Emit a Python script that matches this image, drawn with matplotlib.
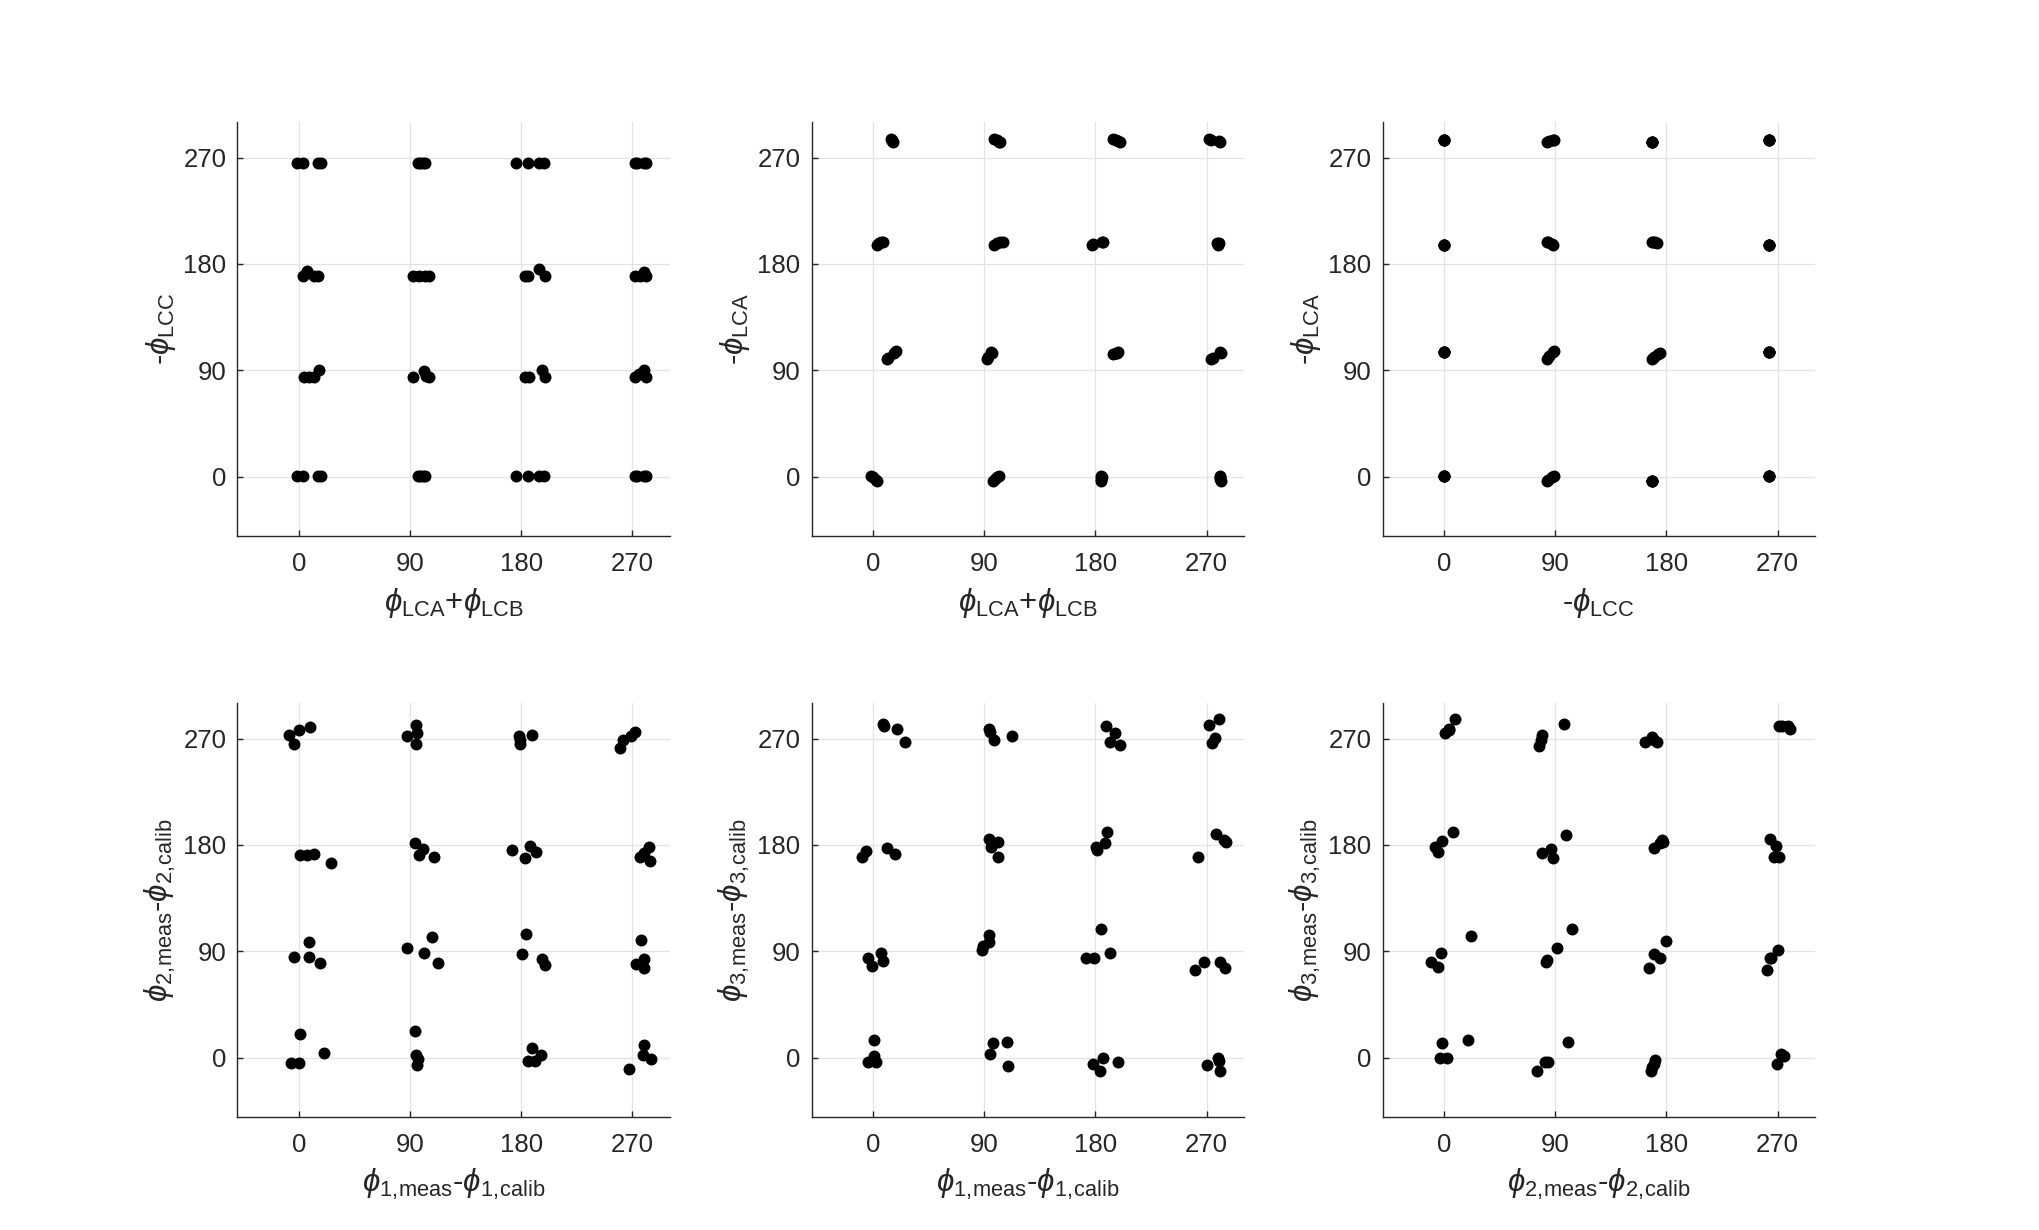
import matplotlib
matplotlib.use("Agg")
import matplotlib.pyplot as plt

plt.rcParams["font.family"] = ["Liberation Sans", "DejaVu Sans"]
plt.rcParams["mathtext.fontset"] = "custom"
plt.rcParams["mathtext.rm"] = "Liberation Sans"
plt.rcParams["mathtext.it"] = "Liberation Sans:italic"
plt.rcParams["mathtext.bf"] = "Liberation Sans:bold"

TICKS = [0, 90, 180, 270]

# top row, left: phi_LCA+phi_LCB vs -phi_LCC
p1_x = [-2, 3, 15, 18, 96, 98, 100, 102, 176, 185, 194, 198, 272, 274, 279, 281,
        3, 6, 12, 15, 92, 97, 102, 105, 183, 185, 194, 199, 272, 276, 279, 281,
        4, 8, 12, 16, 92, 101, 103, 105, 183, 186, 197, 199, 272, 275, 279, 281,
        -2, 3, 15, 18, 96, 98, 100, 102, 176, 185, 194, 198, 272, 274, 279, 281]
p1_y = [265, 265, 265, 265, 265, 265, 265, 265, 265, 265, 265, 265, 265, 265, 265, 265,
        170, 174, 170, 170, 170, 170, 170, 170, 170, 170, 176, 170, 170, 170, 173, 170,
        84, 84, 84, 90, 84, 89, 85, 84, 84, 84, 90, 84, 84, 87, 90, 84,
        0.5, 0.5, 0.5, 0.5, 0.5, 0.5, 0.5, 0.5, 0.5, 0.5, 0.5, 0.5, 0.5, 0.5, 0.5, 0.5]

# top row, middle: phi_LCA+phi_LCB vs -phi_LCA
p2_x = [14.6, 15.4, 15.4, 16.2, 98, 100.5, 103, 102, 194, 196.5, 200, 198, 272, 273.5, 281, 280,
        2.7, 4.6, 6.5, 8.1, 98, 100.5, 103, 105, 177, 178.4, 185.7, 186.5, 278.4, 279, 279.5, 280.3,
        10.8, 12.2, 16.8, 18.1, 92.4, 93.2, 95.7, 96.5, 194.6, 196.5, 198.4, 197.3, 273.5, 275, 281, 281.6,
        -1.6, 0, 1.9, 3.2, 97, 98.6, 100.5, 102, 184.3, 184.3, 184.3, 185, 280.8, 281, 281.4, 280.5]
p2_y = [285.5, 284, 285, 283.6, 285.6, 284.5, 283, 283.6, 285.8, 284.5, 283.6, 284, 285.6, 285, 283.6, 284,
        196, 197.3, 198.2, 198.8, 196, 197.3, 198.2, 198.8, 196, 196.5, 198.8, 198.2, 197.3, 196, 196.5, 198,
        99.8, 100.4, 104.9, 106, 99.8, 101.2, 105.5, 104.9, 104, 104.9, 105.5, 104.6, 99.8, 100.4, 105.5, 104.9,
        0.8, -0.6, -2.8, -4, -4, -2, 0, 0.8, 0.8, -2, -4, -0.6, 0.8, -2, -4, -0.6]

# top row, right: -phi_LCC vs -phi_LCA
p3_x = [0, 0, 0, 0, 83, 85, 87.8, 89.2, 168.4, 168.4, 168.4, 168.4, 263, 263, 263, 263,
        0, 0, 0, 0, 83, 84.3, 88.4, 87, 168, 169.2, 172, 170.6, 263, 263, 263, 263,
        0, 0, 0, 0, 83.5, 85, 87.8, 89, 168, 169.8, 173.3, 174.6, 263, 263, 263, 263,
        0, 0, 0, 0, 83, 84.3, 87, 89, 168.4, 168.4, 168.4, 168.4, 263, 263, 263, 263]
p3_y = [285, 285, 285, 285, 283, 284, 285, 285.3, 283.6, 283.6, 283.6, 283.6, 285, 285, 285, 285,
        196, 196, 196, 196, 198.8, 198.2, 196, 196.5, 198.8, 198.2, 197.6, 198.2, 196, 196, 196, 196,
        105.5, 105.5, 105.5, 105.5, 99.8, 102, 105.5, 106, 99.8, 101.2, 104, 104.9, 105.5, 105.5, 105.5, 105.5,
        0.8, 0.8, 0.8, 0.8, -4, -2.5, -0.6, 0.8, -4, -4, -4, -4, 0.8, 0.8, 0.8, 0.8]

# bottom row, left: phi_1 vs phi_2
p4_x = [-8.6, -4, 0, 8.9, 87, 94.3, 95.1, 94.3, 178.1, 178.7, 178.7, 188.4, 259.5, 262.7, 268.9, 272.4,
        0.8, 6.7, 12.4, 25.9, 93.8, 100.5, 97.3, 109.4, 172.2, 182.7, 186.7, 191.6, 275.7, 283.2, 284.3, 279.7,
        -4, 8.1, 8.1, 17, 87.6, 101.3, 107.8, 112.1, 180.8, 184, 197, 199.4, 273, 277, 279.7, 279.7,
        -6.5, 0, 0.8, 19.7, 93.8, 94.3, 96.5, 95.7, 185.4, 188.6, 190.8, 195.6, 267, 278.4, 279.2, 285.1]
p4_y = [272.8, 265.8, 277.1, 279.9, 272, 281.3, 274.8, 265.5, 272, 265.8, 269.1, 272.8, 262.1, 269.1, 272, 275.7,
        171.3, 171.3, 172.2, 164.5, 181.5, 176.7, 171.3, 169.4, 175.9, 169.1, 179, 174.4, 170.2, 178.1, 166.8, 173,
        84.8, 98.1, 84.8, 80.3, 92.5, 88.8, 102.1, 80.3, 87.4, 104.3, 83.1, 78.3, 78.9, 99.5, 83.9, 76.1,
        -4.2, -4.2, 19.8, 4.2, 22.6, 2, -0.8, -6.5, -2.8, 8.5, -2.8, 2, -9.9, 2, 10.5, -1.4]

# bottom row, middle: phi_1 vs phi_3
p5_x = [8.1, 8.6, 18.9, 25.7, 93.8, 94.6, 97.8, 112.2, 188.4, 196, 191.9, 200, 272.2, 280.3, 277, 274.1,
        -8.9, -6.2, 11.4, 17.6, 93.8, 95.7, 101.4, 101.4, 180.3, 181.6, 187.6, 189.7, 263.2, 277.6, 283.8, 285.7,
        -4.3, -0.8, 6.5, 8.1, 87.8, 88.9, 93.8, 93.8, 172.2, 178.9, 184.9, 191.6, 260.5, 267.6, 280.8, 284.9,
        -4, 0.5, 1.9, 0.5, 94.3, 97.3, 108.1, 109.5, 178.4, 183.5, 186.2, 198.4, 270, 279, 280.3, 280.8]
p5_y = [282.4, 280.5, 278.5, 267.2, 278.5, 275.7, 268.6, 272.5, 280.5, 274.8, 267.2, 264.3, 281.3, 286.7, 270.6, 266.3,
        170.2, 175.3, 177.8, 172.7, 185.2, 178.7, 182.4, 169.4, 178.7, 175.9, 181.5, 190.8, 169.4, 189.1, 184.3, 182.9,
        84, 77.5, 88.2, 82, 91, 94.7, 103.8, 98.1, 84, 84, 108.8, 88.2, 73.8, 81.1, 80.6, 75.5,
        -3.7, 1.4, -3.7, 14.7, 3.4, 12.4, 13.3, -7.1, -5.1, -11.6, -0.3, -3.7, -5.9, 0, -3.1, -11.3]

# bottom row, right: phi_2 vs phi_3
p6_x = [0.8, 3.5, 4, 8.9, 76.8, 78.1, 79.5, 97, 163, 167.9, 170, 172.7, 270.8, 274, 278.4, 280.3,
        -7.3, -5.1, -1.9, 7.5, 79, 86.5, 87.8, 98.4, 170, 174.6, 176.5, 177.3, 263.5, 267, 268.9, 270.8,
        -10.8, -5.1, -2.7, 21.6, 82.2, 83.5, 91.6, 103.2, 165.7, 169.8, 174.6, 180, 261.4, 264.1, 270.3, 264.9,
        -3.2, 2.2, -1.9, 19.1, 74.9, 81.6, 84.3, 100.5, 167.1, 167.9, 169.8, 171.1, 269.5, 272.4, 274.9, 273.5]
p6_y = [274.8, 278.5, 277.6, 286.7, 263.5, 268.6, 273.4, 282.4, 267.2, 271.1, 269.1, 266.9, 280.5, 281, 280.5, 278.5,
        178.7, 174.4, 183.5, 190.8, 173, 176.7, 168.8, 188.6, 177.8, 181.5, 184.3, 182.4, 185.2, 169.4, 179.5, 170.2,
        80.6, 76.9, 88.2, 103.2, 81.1, 82.6, 93, 108.8, 75.5, 87.4, 84, 98.7, 73.8, 84, 90.8, 84.5,
        0, 0, 12.4, 14.7, -11.3, -3.7, -3.7, 13.3, -11.3, -7.9, -5.1, -2.3, -5.1, 3.4, 1.1, 2.5]

lbl_ab = r"$\phi_{\mathrm{LCA}}$+$\phi_{\mathrm{LCB}}$"
lbl_c = r"-$\phi_{\mathrm{LCC}}$"
lbl_a = r"-$\phi_{\mathrm{LCA}}$"
lbl_1 = r"$\phi_{\mathrm{1,\!meas}}$-$\phi_{\mathrm{1,\!calib}}$"
lbl_2 = r"$\phi_{\mathrm{2,\!meas}}$-$\phi_{\mathrm{2,\!calib}}$"
lbl_3 = r"$\phi_{\mathrm{3,\!meas}}$-$\phi_{\mathrm{3,\!calib}}$"

panels = [
    (p1_x, p1_y, lbl_ab, lbl_c),
    (p2_x, p2_y, lbl_ab, lbl_a),
    (p3_x, p3_y, lbl_c, lbl_a),
    (p4_x, p4_y, lbl_1, lbl_2),
    (p5_x, p5_y, lbl_1, lbl_3),
    (p6_x, p6_y, lbl_2, lbl_3),
]

lefts = [0.1164, 0.3978, 0.6777]
bottoms = [0.5645, 0.0921]
W, H = 0.2118, 0.3362
AX_COLOR = "#262626"

fig = plt.figure(figsize=(20.4, 12.3), dpi=100)
for i, (x, y, xl, yl) in enumerate(panels):
    ax = fig.add_axes([lefts[i % 3], bottoms[i // 3], W, H])
    ax.plot(x, y, "o", color="black", ms=8.6, mew=0)
    ax.set_xlim(-50, 300)
    ax.set_ylim(-50, 300)
    ax.set_xticks(TICKS)
    ax.set_yticks(TICKS)
    ax.grid(True, color="#e3e3e3", lw=0.9)
    ax.set_axisbelow(True)
    for s in ("top", "right"):
        ax.spines[s].set_visible(False)
    for s in ("left", "bottom"):
        ax.spines[s].set_color(AX_COLOR)
        ax.spines[s].set_linewidth(1.0)
    ax.tick_params(direction="in", length=4, width=1.0, color=AX_COLOR,
                   labelcolor=AX_COLOR, labelsize=18.5)
    ax.tick_params(axis="x", pad=12)
    ax.tick_params(axis="y", pad=8)
    ax.set_xlabel(xl, fontsize=22.5, color=AX_COLOR, labelpad=7)
    ax.set_ylabel(yl, fontsize=22.5, color=AX_COLOR, labelpad=4)

fig.savefig("out.png", dpi=100)
